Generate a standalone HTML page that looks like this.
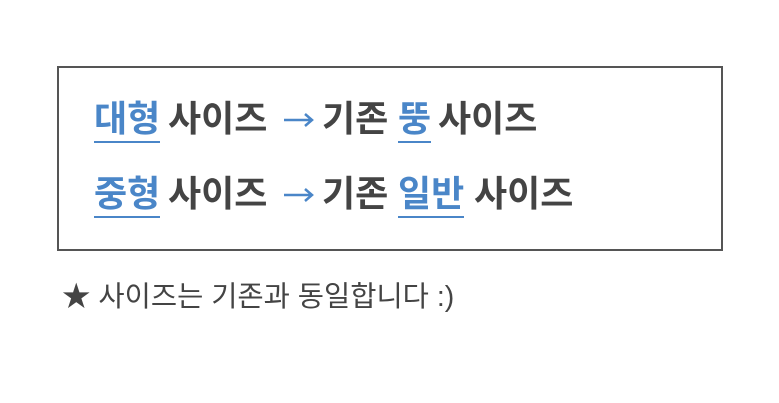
<!DOCTYPE html>
<html><head><meta charset="utf-8"><style>
body{margin:0;width:779px;height:403px;background:#fff;position:relative;overflow:hidden;font-family:"Liberation Sans","Noto Sans CJK KR",sans-serif}
.box{position:absolute;left:57px;top:66px;width:662px;height:181px;border:2px solid #555}
.w{position:absolute;font-size:36px;font-weight:bold;color:#444;line-height:1;white-space:nowrap}
.b{color:#4a86c8}
.u{border-bottom:2px solid #4a86c8;padding-bottom:4px}
.note{position:absolute;left:62px;top:283px;font-size:28.5px;color:#444;white-space:nowrap;line-height:1}
svg{position:absolute}
</style></head><body>
<div class="box"></div>
<div class="w b u" style="left:94px;top:101px">대형</div>
<div class="w" style="left:168px;top:101px">사이즈</div>
<svg style="left:282px;top:110px" width="34" height="20"><path d="M2 10H30M23 4L30 10L23 16" fill="none" stroke="#4a86c8" stroke-width="2.5"/></svg>
<div class="w" style="left:322px;top:101px">기존</div>
<div class="w b u" style="left:398px;top:101px">뚱</div>
<div class="w" style="left:438px;top:101px">사이즈</div>

<div class="w b u" style="left:94px;top:176px">중형</div>
<div class="w" style="left:168px;top:176px">사이즈</div>
<svg style="left:282px;top:185px" width="34" height="20"><path d="M2 10H30M23 4L30 10L23 16" fill="none" stroke="#4a86c8" stroke-width="2.5"/></svg>
<div class="w" style="left:322px;top:176px">기존</div>
<div class="w b u" style="left:398px;top:176px">일반</div>
<div class="w" style="left:474px;top:176px">사이즈</div>

<div class="note">★ 사이즈는 기존과 동일합니다 :)</div>
</body></html>
